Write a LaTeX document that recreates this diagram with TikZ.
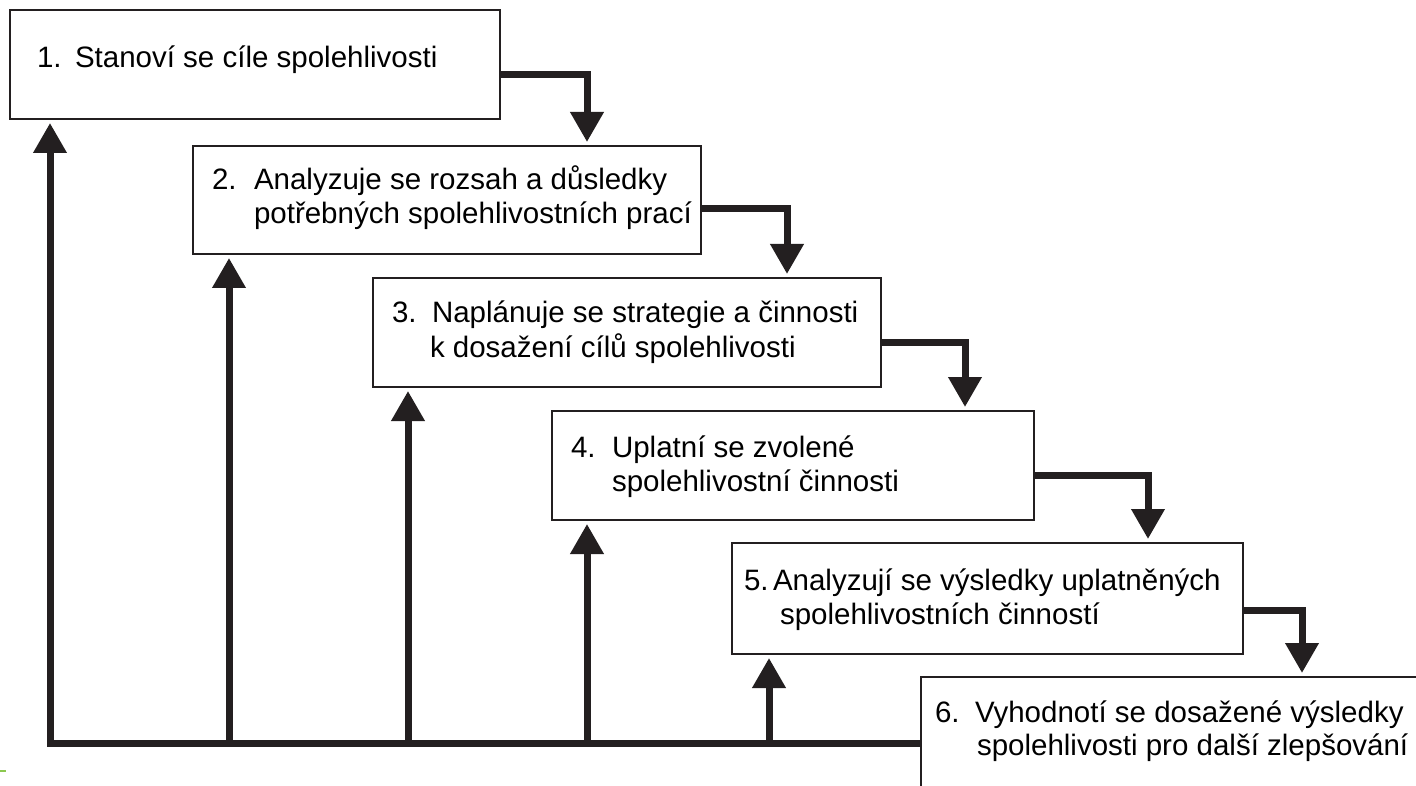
\documentclass[tikz,border=0pt]{standalone}
\usepackage{fontspec}
\setmainfont{Liberation Sans}
\usetikzlibrary{arrows.meta}
\definecolor{ink}{RGB}{35,31,32}
\definecolor{speck}{RGB}{140,200,80}
\begin{document}
\begin{tikzpicture}[x=1pt,y=-1pt,
  box/.style={draw=ink,line width=2.5pt,fill=white,anchor=north west,inner sep=0pt,outer sep=0pt},
  lbl/.style={anchor=base west,inner sep=0pt,outer sep=0pt,font=\fontsize{29.5}{34}\selectfont},
  flow/.style={draw=ink,line width=7pt,-{Triangle[width=32pt,length=30pt]},shorten >=4pt},
  trunk/.style={draw=ink,line width=7pt}]
\useasboundingbox (0,0) rectangle (1416,786);
\clip (0,0) rectangle (1416,786);
\fill[white] (0,0) rectangle (1416,786);

% boxes
\node[box,minimum width=490pt,minimum height=109pt] (b1) at (10,10) {};
\node[box,minimum width=508pt,minimum height=108pt] (b2) at (193,146) {};
\node[box,minimum width=508pt,minimum height=109pt] (b3) at (373,278) {};
\node[box,minimum width=482pt,minimum height=109pt] (b4) at (552,411) {};
\node[box,minimum width=511pt,minimum height=111pt] (b5) at (732,543) {};
\node[box,minimum width=600pt,minimum height=200pt] (b6) at (921,677) {};

% texts
\node[lbl] (n1) at (37,68) {1.};
\node[lbl] (t1) at (75,68) {Stanoví se cíle spolehlivosti};

\node[lbl] (n2) at (212,190) {2.};
\node[lbl] (t2a) at (254,190) {Analyzuje se rozsah a důsledky};
\node[lbl] (t2b) at (254,224) {potřebných spolehlivostních prací};

\node[lbl] (n3) at (392,323) {3.};
\node[lbl] (t3a) at (432,323) {Naplánuje se strategie a činnosti};
\node[lbl] (t3b) at (430,357) {k dosažení cílů spolehlivosti};

\node[lbl] (n4) at (571,457) {4.};
\node[lbl] (t4a) at (612,457) {Uplatní se zvolené};
\node[lbl] (t4b) at (612,491) {spolehlivostní činnosti};

\node[lbl] (n5) at (744,590) {5.};
\node[lbl] (t5a) at (773,590) {Analyzují se výsledky uplatněných};
\node[lbl] (t5b) at (780,624) {spolehlivostních činností};

\node[lbl] (n6) at (935,722) {6.};
\node[lbl] (t6a) at (975,722) {Vyhodnotí se dosažené výsledky};
\node[lbl] (t6b) at (977,755) {spolehlivosti pro další zlepšování};

% right-hand connectors
\coordinate (h1) at (587,74.5);
\coordinate (h2) at (787,209);
\coordinate (h3) at (965,342);
\coordinate (h4) at (1148,475);
\coordinate (h5) at (1302,610);
\draw[flow] (b1.east |- h1) -| (h1 |- b2.north);
\draw[flow] (b2.east |- h2) -| (h2 |- b3.north);
\draw[flow] (b3.east |- h3) -| (h3 |- b4.north);
\draw[flow] (b4.east |- h4) -| (h4 |- b5.north);
\draw[flow] (b5.east |- h5) -| (h5 |- b6.north);

% feedback trunk
\coordinate (j1) at (50,743);
\coordinate (j2) at (229,743);
\coordinate (j3) at (408,743);
\coordinate (j4) at (587,743);
\coordinate (j5) at (769,743);
\draw[flow] (b6.west |- j1) -- (j1) -- (j1 |- b1.south);
\draw[flow] (j2) -- (j2 |- b2.south);
\draw[flow] (j3) -- (j3 |- b3.south);
\draw[flow] (j4) -- (j4 |- b4.south);
\draw[flow] (j5) -- (j5 |- b5.south);

% small green speck at lower left
\draw[speck,line width=2pt] (0,771) -- (6,771);
\end{tikzpicture}
\end{document}
